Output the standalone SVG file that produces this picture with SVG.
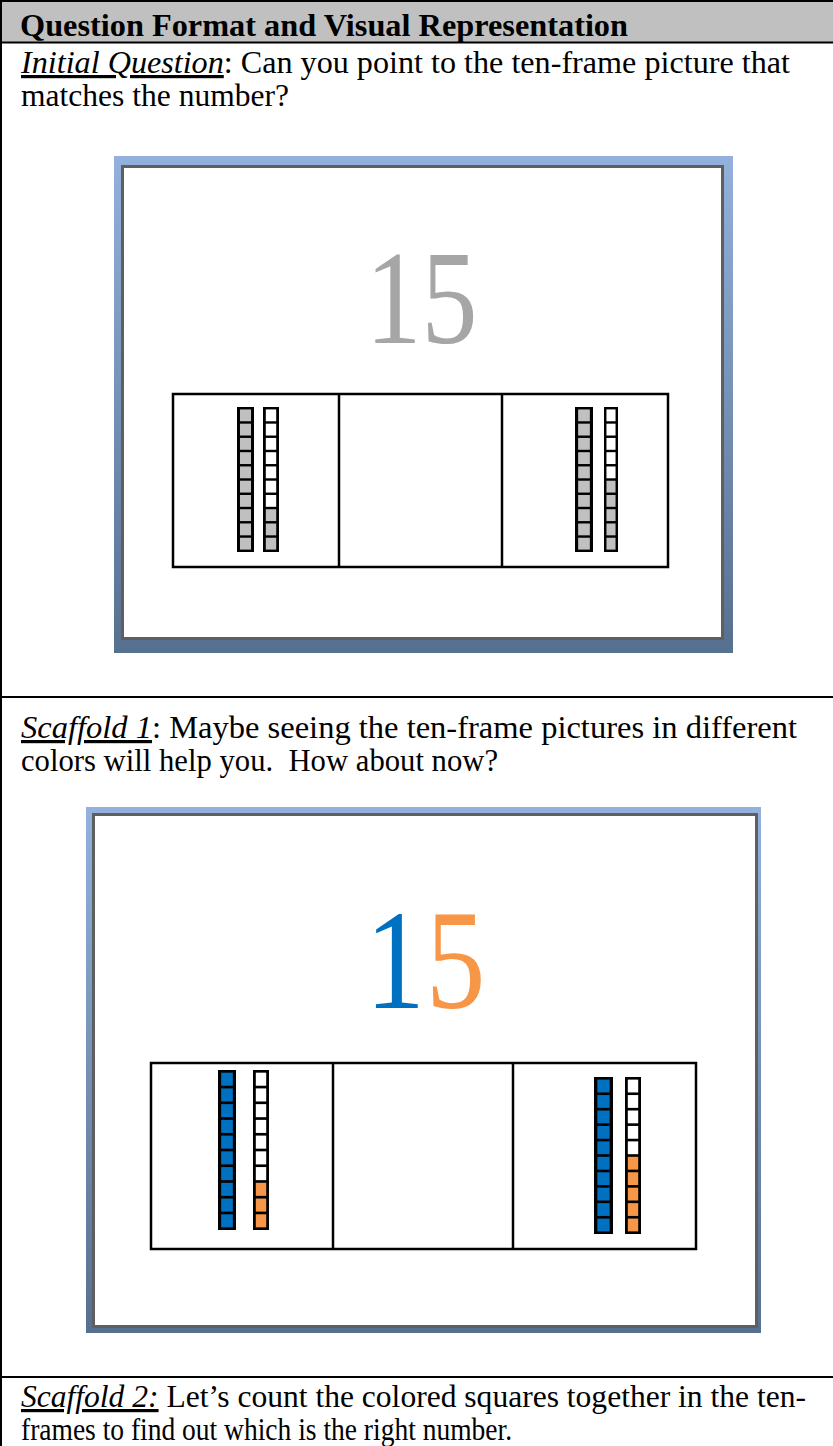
<svg xmlns="http://www.w3.org/2000/svg" xmlns:xlink="http://www.w3.org/1999/xlink" width="833" height="1446" viewBox="0 0 833 1446">
  <style>
    .txt { font-family: 'Liberation Serif', 'Times New Roman', Times, serif; font-size: 32px; fill: #000; white-space: pre; }
    .hdr { font-weight: bold; }
    .lbl { font-style: italic; text-decoration: underline; }
    .rule { stroke: #000; stroke-width: 2; fill: none; }
    .inner { fill: #fff; stroke: #5f5f5f; stroke-width: 3; }
    .tf { fill: none; stroke: #000; stroke-width: 2.5; }
    .num { font-family: 'Liberation Serif', 'Times New Roman', Times, serif; }
  </style>
  <defs>
    <linearGradient id="slideBlue" x1="0" y1="0" x2="0" y2="1">
      <stop offset="0" stop-color="#93b1dc"/>
      <stop offset="1" stop-color="#56708f"/>
    </linearGradient>
    <!-- one ten-stack column in a 20x150 box; colored cells take the fill of the <use> -->
    <g id="col10">
      <rect x="0" y="0" width="20" height="150" fill="#000"/>
      <rect x="3.5" y="2.5" width="13" height="12.25"/>
      <rect x="3.5" y="17.25" width="13" height="12.25"/>
      <rect x="3.5" y="32" width="13" height="12.25"/>
      <rect x="3.5" y="46.75" width="13" height="12.25"/>
      <rect x="3.5" y="61.5" width="13" height="12.25"/>
      <rect x="3.5" y="76.25" width="13" height="12.25"/>
      <rect x="3.5" y="91" width="13" height="12.25"/>
      <rect x="3.5" y="105.75" width="13" height="12.25"/>
      <rect x="3.5" y="120.5" width="13" height="12.25"/>
      <rect x="3.5" y="135.25" width="13" height="12.25"/>
    </g>
    <g id="col3">
      <rect x="0" y="0" width="20" height="150" fill="#000"/>
      <rect x="3.5" y="2.5" width="13" height="12.25" fill="#fff"/>
      <rect x="3.5" y="17.25" width="13" height="12.25" fill="#fff"/>
      <rect x="3.5" y="32" width="13" height="12.25" fill="#fff"/>
      <rect x="3.5" y="46.75" width="13" height="12.25" fill="#fff"/>
      <rect x="3.5" y="61.5" width="13" height="12.25" fill="#fff"/>
      <rect x="3.5" y="76.25" width="13" height="12.25" fill="#fff"/>
      <rect x="3.5" y="91" width="13" height="12.25" fill="#fff"/>
      <rect x="3.5" y="105.75" width="13" height="12.25"/>
      <rect x="3.5" y="120.5" width="13" height="12.25"/>
      <rect x="3.5" y="135.25" width="13" height="12.25"/>
    </g>
    <g id="col5">
      <rect x="0" y="0" width="20" height="150" fill="#000"/>
      <rect x="3.5" y="2.5" width="13" height="12.25" fill="#fff"/>
      <rect x="3.5" y="17.25" width="13" height="12.25" fill="#fff"/>
      <rect x="3.5" y="32" width="13" height="12.25" fill="#fff"/>
      <rect x="3.5" y="46.75" width="13" height="12.25" fill="#fff"/>
      <rect x="3.5" y="61.5" width="13" height="12.25" fill="#fff"/>
      <rect x="3.5" y="76.25" width="13" height="12.25"/>
      <rect x="3.5" y="91" width="13" height="12.25"/>
      <rect x="3.5" y="105.75" width="13" height="12.25"/>
      <rect x="3.5" y="120.5" width="13" height="12.25"/>
      <rect x="3.5" y="135.25" width="13" height="12.25"/>
    </g>
  </defs>

  <rect width="833" height="1446" fill="#fff"/>

  <!-- table header -->
  <g id="header">
    <rect x="0" y="0" width="833" height="42" fill="#c0c0c0"/>
    <text class="txt hdr" x="20" y="36" textLength="608" lengthAdjust="spacingAndGlyphs">Question Format and Visual Representation</text>
  </g>

  <!-- table rules -->
  <g id="table-rules">
    <line class="rule" x1="0" y1="1" x2="833" y2="1"/>
    <line class="rule" x1="1" y1="0" x2="1" y2="1446"/>
    <line class="rule" x1="0" y1="42.5" x2="833" y2="42.5"/>
    <line class="rule" x1="0" y1="697" x2="833" y2="697"/>
    <line class="rule" x1="0" y1="1377" x2="833" y2="1377"/>
  </g>

  <!-- row 1: initial question -->
  <g id="row-initial">
    <text class="txt" x="21" y="73" textLength="769" lengthAdjust="spacingAndGlyphs"><tspan class="lbl">Initial Question</tspan>: Can you point to the ten-frame picture that</text>
    <text class="txt" x="21" y="106" textLength="268" lengthAdjust="spacingAndGlyphs">matches the number?</text>
  </g>

  <g id="slide-initial">
    <rect x="114" y="156" width="619" height="497" fill="url(#slideBlue)"/>
    <rect class="inner" x="122.5" y="166.5" width="600" height="472"/>
    <text class="num" x="365.5" y="343" font-size="133" fill="#a6a6a6" textLength="112" lengthAdjust="spacingAndGlyphs">15</text>
    <rect class="tf" x="173" y="394" width="495" height="173"/>
    <line class="tf" x1="339" y1="394" x2="339" y2="567"/>
    <line class="tf" x1="502" y1="394" x2="502" y2="567"/>
    <use xlink:href="#col10" fill="#c0c0c0" transform="translate(237,407) scale(0.85,0.9667)"/>
    <use xlink:href="#col3" fill="#c0c0c0" transform="translate(263,407) scale(0.8,0.9667)"/>
    <use xlink:href="#col10" fill="#c0c0c0" transform="translate(575,407) scale(0.9,0.9667)"/>
    <use xlink:href="#col5" fill="#c0c0c0" transform="translate(604,407) scale(0.7,0.9667)"/>
  </g>

  <!-- row 2: scaffold 1 -->
  <g id="row-scaffold1">
    <text class="txt" x="21" y="738" textLength="776" lengthAdjust="spacingAndGlyphs"><tspan class="lbl">Scaffold 1</tspan>: Maybe seeing the ten-frame pictures in different</text>
    <text class="txt" x="21" y="771" textLength="477" lengthAdjust="spacingAndGlyphs">colors will help you.  How about now?</text>
  </g>

  <g id="slide-scaffold1">
    <rect x="86" y="807" width="675" height="526" fill="url(#slideBlue)"/>
    <rect class="inner" x="93.5" y="814.5" width="663" height="512"/>
    <!-- tens digit in blue, ones digit in orange, both narrowed slightly -->
    <text class="num" transform="translate(365.5,1008) scale(0.83,1)" x="0" y="0" font-size="143" fill="#0070c0">1</text>
    <text class="num" transform="translate(426,1008) scale(0.83,1)" x="0" y="0" font-size="143" fill="#f79646">5</text>
    <rect class="tf" x="151" y="1063" width="545" height="186"/>
    <line class="tf" x1="333" y1="1063" x2="333" y2="1249"/>
    <line class="tf" x1="513" y1="1063" x2="513" y2="1249"/>
    <use xlink:href="#col10" fill="#0070c0" transform="translate(218,1070) scale(0.9,1.0667)"/>
    <use xlink:href="#col3" fill="#f79646" transform="translate(253,1070) scale(0.8,1.0667)"/>
    <use xlink:href="#col10" fill="#0070c0" transform="translate(594,1077) scale(0.95,1.0467)"/>
    <use xlink:href="#col5" fill="#f79646" transform="translate(625,1077) scale(0.8,1.0467)"/>
  </g>

  <!-- row 3: scaffold 2 -->
  <g id="row-scaffold2">
    <text class="txt" x="21" y="1407" textLength="785" lengthAdjust="spacingAndGlyphs"><tspan class="lbl">Scaffold 2:</tspan> Let’s count the colored squares together in the ten-</text>
    <text class="txt" x="21" y="1440" textLength="491" lengthAdjust="spacingAndGlyphs">frames to find out which is the right number.</text>
  </g>
</svg>
